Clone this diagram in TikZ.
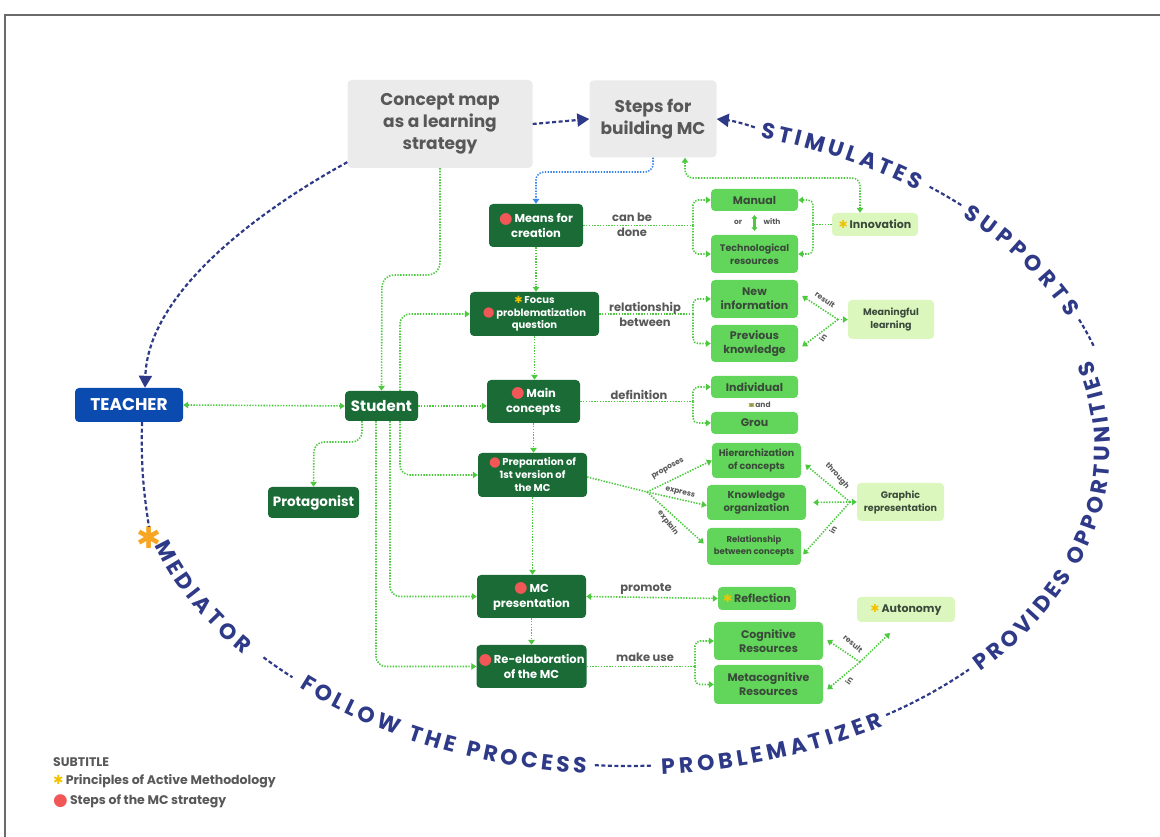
\documentclass[tikz,border=0pt]{standalone}
\usepackage{fontspec}
\setmainfont{Poppins}
\newfontfamily\symfont{DejaVu Sans}
\usepackage{tikz}
\usetikzlibrary{arrows.meta,positioning,decorations.text}

\definecolor{stagegreen}{HTML}{1A6B36}
\definecolor{midgreen}{HTML}{62D65A}
\definecolor{palegreen}{HTML}{DCF7BE}
\definecolor{greybg}{HTML}{EBEBEB}
\definecolor{greytext}{HTML}{585858}
\definecolor{boxtext}{HTML}{3A4A3A}
\definecolor{teacherblue}{HTML}{0B4AAE}
\definecolor{arcnavy}{HTML}{2E3A87}
\definecolor{dotgreen}{HTML}{4CC93F}
\definecolor{dotblue}{HTML}{3A86E8}
\definecolor{dotred}{HTML}{F25757}
\definecolor{staryellow}{HTML}{F2C200}
\definecolor{starorange}{HTML}{F6A623}
\definecolor{framegrey}{HTML}{6A6A6A}
\definecolor{andolive}{HTML}{9C9A40}

\newcommand{\fsz}[2]{\fontsize{#1}{#2}\selectfont}
\newcommand{\stepdot}{\textcolor{dotred}{\raisebox{-0.12ex}{\scalebox{1.35}{\symfont ●}}}\,}
\newcommand{\amstar}{\textcolor{staryellow}{\symfont ✱}\,}
\newcommand{\arcfont}{\color{arcnavy}\bfseries\fsz{22}{22}}
% words on the big ellipse (centre 628,387)
\newcommand{\arcword}[4][482]{\path[decorate,decoration={text along path,text={|\arcfont|#4},text align={fit to path}}] (#2:#1 and 325) arc[start angle=#2,end angle=#3,x radius=#1,y radius=325];}
\newcommand{\arcdashtop}[2]{\draw[navydash] (#1:490 and 334) arc[start angle=#1,end angle=#2,x radius=490,y radius=334];}
\newcommand{\arcdashlow}[3][474]{\draw[navydash] (#2:#1 and 316) arc[start angle=#2,end angle=#3,x radius=#1,y radius=316];}

\begin{document}
\begin{tikzpicture}[x=1pt,y=1pt,
  greybox/.style={rectangle,rounded corners=4pt,fill=greybg,text=greytext,font=\bfseries\fsz{17}{22},align=center,inner sep=2pt},
  stagebox/.style={rectangle,rounded corners=4pt,fill=stagegreen,text=white,font=\bfseries\fsz{11.5}{15},align=center,inner sep=2pt},
  detailbox/.style={rectangle,rounded corners=4pt,fill=midgreen,text=boxtext,font=\bfseries\fsz{11}{14},align=center,inner sep=2pt},
  palebox/.style={rectangle,rounded corners=4pt,fill=palegreen,text=boxtext,font=\bfseries\fsz{11}{14},align=center,inner sep=2pt},
  teacherbox/.style={rectangle,rounded corners=4pt,fill=teacherblue,text=white,font=\bfseries\fsz{17}{20},inner sep=2pt},
  linklabel/.style={text=greytext,font=\bfseries\fsz{11.5}{15},align=center,inner sep=1pt},
  tinylabel/.style={text=greytext,font=\bfseries\fsz{7.5}{9},inner sep=1pt},
  dotline/.style={draw=dotgreen,line width=1.6pt,dash pattern=on 1.4pt off 1.4pt},
  dotlink/.style={dotline,-{Triangle[length=5pt,width=6.5pt]}},
  dotboth/.style={dotline,{Triangle[length=5pt,width=6.5pt]}-{Triangle[length=5pt,width=6.5pt]}},
  bluelink/.style={draw=dotblue,line width=1.6pt,dash pattern=on 1.4pt off 1.4pt,-{Triangle[length=5pt,width=6.5pt]}},
  navydash/.style={draw=arcnavy,line width=2.2pt,dash pattern=on 4pt off 2.5pt},
  navylink/.style={navydash,-{Triangle[length=12pt,width=13pt]}},
  swaparrow/.style={draw=dotgreen,line width=2.4pt,{Triangle[length=3.5pt,width=6pt]}-{Triangle[length=3.5pt,width=6pt]}}
]
\useasboundingbox (0,0) rectangle (1160,837);
\draw[framegrey,line width=2pt] (5,0) -- (5,822) -- (1160,822);

% top boxes
\node[greybox,minimum width=185,minimum height=88] (cmap) at (440,713) {Concept map\\as a learning\\strategy};
\node[greybox,minimum width=127,minimum height=77] (steps) at (653,718) {Steps for\\building MC};

% steps of the strategy
\node[stagebox,minimum width=94,minimum height=43] (means) at (536,611.5) {\stepdot Means for\\creation};
\node[stagebox,minimum width=129,minimum height=44,font=\bfseries\fsz{10}{12.5}] (focus) at (534.5,523) {\amstar Focus\\\stepdot problematization\\question};
\node[stagebox,minimum width=93,minimum height=43] (main) at (533.5,435.5) {\stepdot Main\\concepts};
\node[stagebox,minimum width=109,minimum height=44,font=\bfseries\fsz{10}{13}] (prep) at (532.5,362) {\stepdot Preparation of\\1st version of\\the MC};
\node[stagebox,minimum width=109,minimum height=43] (pres) at (531.5,240.5) {\stepdot MC\\presentation};
\node[stagebox,minimum width=109,minimum height=43] (reel) at (531.5,170.5) {\stepdot Re-elaboration\\of the MC};
\node[stagebox,minimum width=73,minimum height=30,font=\bfseries\fsz{15}{18}] (student) at (381.5,431) {Student};
\node[stagebox,minimum width=91,minimum height=31,font=\bfseries\fsz{13.5}{16}] (protag) at (313.5,334.5) {Protagonist};
\node[teacherbox,minimum width=108,minimum height=34] (teacher) at (129,432) {TEACHER};

% details
\node[detailbox,minimum width=87,minimum height=22] (manual) at (754.5,637) {Manual};
\node[detailbox,minimum width=87,minimum height=38,font=\bfseries\fsz{9.5}{13}] (tech) at (754.5,583) {Technological\\resources};
\node[detailbox,minimum width=87,minimum height=38] (newinfo) at (754.5,538) {New\\information};
\node[detailbox,minimum width=87,minimum height=37] (prevk) at (754.5,493.5) {Previous\\knowledge};
\node[detailbox,minimum width=87,minimum height=22] (indiv) at (754.5,450) {Individual};
\node[detailbox,minimum width=87,minimum height=22] (grou) at (754.5,414) {Grou};
\node[detailbox,minimum width=89,minimum height=35,font=\bfseries\fsz{9.5}{13}] (hier) at (756.5,376.5) {Hierarchization\\of concepts};
\node[detailbox,minimum width=99,minimum height=35,font=\bfseries\fsz{10}{13}] (know) at (756.5,334.5) {Knowledge\\organization};
\node[detailbox,minimum width=94,minimum height=37,font=\bfseries\fsz{8.5}{12}] (relb) at (754,290.5) {Relationship\\between concepts};
\node[detailbox,minimum width=78,minimum height=23] (reflect) at (757,238.5) {\amstar Reflection};
\node[detailbox,minimum width=109,minimum height=38] (cogn) at (768.5,196) {Cognitive\\Resources};
\node[detailbox,minimum width=109,minimum height=39] (meta) at (768.5,152.5) {Metacognitive\\Resources};

\node[palebox,minimum width=86,minimum height=23] (innov) at (875,612.5) {\amstar Innovation};
\node[palebox,minimum width=86,minimum height=39,font=\bfseries\fsz{9.5}{13}] (meaning) at (891,517.5) {Meaningful\\learning};
\node[palebox,minimum width=87,minimum height=38,font=\bfseries\fsz{9.5}{13}] (graphic) at (900.5,335) {Graphic\\representation};
\node[palebox,minimum width=98,minimum height=25] (autonomy) at (906,227.5) {\amstar Autonomy};

% junctions
\coordinate (jmeans) at (693,611.5);
\coordinate (jinnov) at (813,612.5);
\coordinate (jfocus) at (693,523);
\coordinate (jmeaning) at (838,517.5);
\coordinate (jmain) at (693,435.5);
\coordinate (jprep) at (647,345);
\coordinate (jgraph) at (850,335);
\coordinate (jreel) at (695,170.5);
\coordinate (jauto) at (860,175);
\coordinate (autotip) at (890,204);

% navy links
\draw[navylink] (cmap.east) -- (steps.west);
\draw[navylink] ([yshift=6pt]cmap.south west) .. controls (260,627) and (148,545) .. ([xshift=16pt]teacher.north);
\node[text=starorange,font=\symfont\fsz{30}{30},inner sep=0pt] (star) at (149,299) {✱};
\draw[navydash] ([xshift=13pt]teacher.south) to[bend right=5] (star.north);

% main chain
\draw[bluelink,rounded corners=8] (steps.south) |- (536,665) -- (means.north);
\draw[dotboth,rounded corners=8] ([xshift=32pt]steps.south) |- (860,659) -- ([xshift=-15pt]innov.north);
\draw[dotlink] (means.south) -- (means.south |- focus.north);
\draw[dotlink] (focus.south) -- (focus.south |- main.north);
\draw[dotlink] (main.south) -- (main.south |- prep.north);
\draw[dotlink] (prep.south) -- (prep.south |- pres.north);
\draw[dotlink] (pres.south) -- (pres.south |- reel.north);

% student
\draw[dotlink,rounded corners=12] (cmap.south) |- (382,562) -- (student.north);
\draw[dotboth] (teacher.east) -- (student.west);
\draw[dotlink] (student.east) -- (student.east -| main.west);
\draw[dotlink,rounded corners=10] ([xshift=18.5pt]student.north) |- (focus.west);
\draw[dotlink,rounded corners=10] ([xshift=-19.5pt]student.south) |- (314,395) -- (protag.north);
\draw[dotlink,rounded corners=10] ([xshift=18.5pt]student.south) |- (prep.west);
\draw[dotlink,rounded corners=10] ([xshift=8.5pt]student.south) |- (pres.west);
\draw[dotlink,rounded corners=10] ([xshift=-5.5pt]student.south) |- (reel.west);

% means
\draw[dotline] (means.east) -- (jmeans);
\draw[dotlink,rounded corners=5] (jmeans) |- (manual.west);
\draw[dotlink,rounded corners=5] (jmeans) |- (tech.west);
\node[linklabel] (canbe) at (632,612) {can be\\done};
\draw[dotline] (innov.west) -- (jinnov);
\draw[dotlink,rounded corners=5] (jinnov) |- (manual.east);
\draw[dotlink,rounded corners=5] (jinnov) |- (tech.east);
\draw[swaparrow,shorten <=4pt,shorten >=4pt] (manual.south) -- (tech.north);
\node[tinylabel] (orlbl) at (738,615) {or};
\node[tinylabel] (withlbl) at (772,615) {with};

% focus
\draw[dotline] (focus.east) -- (jfocus);
\draw[dotlink,rounded corners=5] (jfocus) |- (newinfo.west);
\draw[dotlink,rounded corners=5] (jfocus) |- (prevk.west);
\node[linklabel] (relbetween) at (645,523) {relationship\\between};
\draw[dotlink] (jmeaning) -- (meaning.west);
\draw[dotlink] (jmeaning) -- ([shift={(4pt,3pt)}]newinfo.east);
\draw[dotlink] (jmeaning) -- ([shift={(4pt,-3pt)}]prevk.east);
\node[tinylabel,rotate=-35] (result1) at (825,537) {result};
\node[tinylabel,rotate=55] (in1) at (823,499) {in};

% main
\draw[dotline] (main.east) -- (jmain);
\draw[dotlink,rounded corners=5] (jmain) |- (indiv.west);
\draw[dotlink,rounded corners=5] (jmain) |- (grou.west);
\node[linklabel] (defn) at (639,442) {definition};
\draw[swaparrow,draw=andolive,line width=1.6pt,shorten <=5pt,shorten >=5pt] ([xshift=-3pt]indiv.south) -- ([xshift=-3pt]grou.north);
\node[tinylabel] (andlbl) at (763,432) {and};

% preparation
\draw[dotline] ([yshift=-2pt]prep.east) -- (jprep);
\draw[dotlink] (jprep) -- (hier.west);
\draw[dotlink] (jprep) -- ([yshift=-3pt]know.west);
\draw[dotlink] (jprep) -- ([shift={(-3pt,3pt)}]relb.west);
\node[tinylabel,rotate=30] (proposes) at (668,368) {proposes};
\node[tinylabel,rotate=-15] (express) at (680,344) {express};
\node[tinylabel,rotate=-52] (explain) at (668,314) {explain};
\draw[dotlink] (jgraph) -- (graphic.west);
\draw[dotlink] (jgraph) -- ([shift={(4pt,-4pt)}]hier.east);
\draw[dotlink] (jgraph) -- ([xshift=7pt]know.east);
\draw[dotlink] (jgraph) -- ([shift={(2pt,-8pt)}]relb.east);
\node[tinylabel,rotate=-48] (through) at (837,361) {through};
\node[tinylabel,rotate=60] (in2) at (833,307) {in};

% presentation
\draw[dotboth] (pres.east) -- (reflect.west);
\node[linklabel] (promote) at (646,248) {promote};

% re-elaboration
\draw[dotline] (reel.east) -- (jreel);
\draw[dotlink,rounded corners=5] (jreel) |- (cogn.west);
\draw[dotlink,rounded corners=5] (jreel) |- (meta.west);
\node[linklabel] (makeuse) at (645,180) {make use};
\draw[dotlink] (jauto) -- (autotip);
\draw[dotlink] (jauto) -- ([shift={(4pt,1pt)}]cogn.east);
\draw[dotlink] (jauto) -- ([shift={(4pt,-5pt)}]meta.east);
\node[tinylabel,rotate=-40] (result3) at (853,193) {result};
\node[tinylabel,rotate=55] (in3) at (849,156) {in};

% the big ellipse of teacher roles
\draw[navylink] ([shift={(628,387)}]75:490 and 334) to[bend right=6] (steps.east);
\begin{scope}[shift={(628,387)}]
\arcword{74}{53}{STIMULATES}
\arcdashtop{52}{47}
\arcword{46}{24}{SUPPORTS}
\arcdashtop{23}{18}
\arcword[495]{-163}{-141}{MEDIATOR}
\arcdashlow[483]{-139}{-134}
\arcword{-133}{-95}{FOLLOW THE PROCESS}
\arcdashlow{-94}{-87}
\arcword{-86}{-58}{PROBLEMATIZER}
\arcdashlow{-57}{-44}
\arcword{-43}{16}{PROVIDES OPPORTUNITIES}
\end{scope}

% legend
\node[anchor=west,text=greytext,font=\bfseries\fsz{12.5}{14},inner sep=0pt] (subtitle) at (53,75) {SUBTITLE};
\node[anchor=west,text=greytext,font=\bfseries\fsz{12.5}{15},inner sep=0pt] (legstar) at (53,56) {\amstar Principles of Active Methodology};
\node[anchor=west,text=greytext,font=\bfseries\fsz{12.5}{15},inner sep=0pt] (legdot) at (53,36) {\stepdot Steps of the MC strategy};
\end{tikzpicture}
\end{document}
